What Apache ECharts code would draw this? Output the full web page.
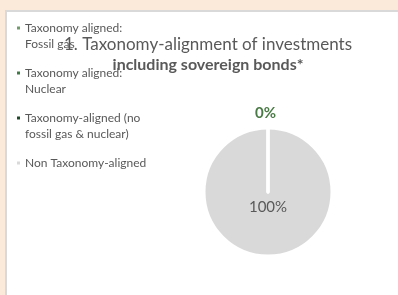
<!DOCTYPE html>
<html>
<head>
<meta charset="utf-8">
<script src="https://cdn.jsdelivr.net/npm/echarts@6/dist/echarts.min.js"></script>
<style>
  html, body { margin: 0; padding: 0; background: #fbe9d9; }
  #chart { width: 398px; height: 295px; }
</style>
</head>
<body>
<div id="chart"></div>
<script>
  // categories and values (percent)
  const categories = [
    'Taxonomy aligned:\nFossil gas',
    'Taxonomy aligned:\nNuclear',
    'Taxonomy-aligned (no\nfossil gas & nuclear)',
    'Non Taxonomy-aligned'
  ];
  const values = [0, 0, 0, 100];
  const colors = ['#6f9a6a', '#3f7a45', '#1d4a26', '#d9d9d9'];
  const showLabel = [false, false, true, true];
  // draw order: the big slice first so the empty slices' white edge stays on top
  const drawOrder = [3, 0, 1, 2];

  // legend marker sits on the first text line
  const legendIcon = 'path://M0,0M3,32M0,6.5L3,6.5L3,9.5L0,9.5Z';

  const chartDom = document.getElementById('chart');
  const myChart = echarts.init(chartDom, null, { width: 398, height: 295 });

  const pieData = drawOrder.map((i) => {
    const item = {
      name: categories[i],
      value: values[i],
      itemStyle: { color: colors[i] }
    };
    if (!showLabel[i]) {
      item.label = { show: false };
    } else if (values[i] === 0) {
      item.label = {
        position: 'outside',
        color: '#4a7a45',
        fontWeight: 'bold',
        fontSize: 15,
        offset: [-18, -7]
      };
    } else {
      item.label = {
        position: 'center',
        color: '#595959',
        fontSize: 15,
        offset: [0, 15]
      };
    }
    return item;
  });

  const option = {
    backgroundColor: '#fbe9d9',
    animation: false,
    textStyle: { fontFamily: 'Lato' },
    graphic: [{
      type: 'rect',
      shape: { x: 6, y: 11, width: 400, height: 290 },
      style: { fill: '#ffffff', stroke: '#d9d9d9', lineWidth: 2 },
      z: -10
    }],
    title: {
      text: '1. Taxonomy-alignment of investments\n{b|including sovereign bonds*}',
      left: 203,
      top: 30,
      textAlign: 'center',
      textStyle: {
        color: '#595959',
        fontSize: 17,
        fontWeight: 'normal',
        lineHeight: 20,
        rich: {
          b: { fontSize: 16, fontWeight: 'bold', color: '#595959', lineHeight: 20 }
        }
      }
    },
    legend: {
      orient: 'vertical',
      left: 12,
      top: 15,
      itemWidth: 3,
      itemHeight: 32,
      itemGap: 13,
      icon: legendIcon,
      selectedMode: false,
      itemStyle: { borderWidth: 0 },
      data: categories,
      // single-line entry keeps the same slot height as the others
      formatter: (name) => name === 'Non Taxonomy-aligned' ? name + '\n ' : name,
      textStyle: {
        color: '#595959',
        fontSize: 12,
        lineHeight: 16
      }
    },
    series: [{
      type: 'pie',
      center: [268, 192],
      radius: 64,
      startAngle: 90,
      clockwise: true,
      avoidLabelOverlap: false,
      itemStyle: { borderColor: '#ffffff', borderWidth: 3 },
      label: {
        show: true,
        formatter: '{c}%'
      },
      labelLine: { show: false, length: 8, length2: 0 },
      emphasis: { disabled: true },
      data: pieData
    }]
  };

  myChart.setOption(option);
</script>
</body>
</html>
